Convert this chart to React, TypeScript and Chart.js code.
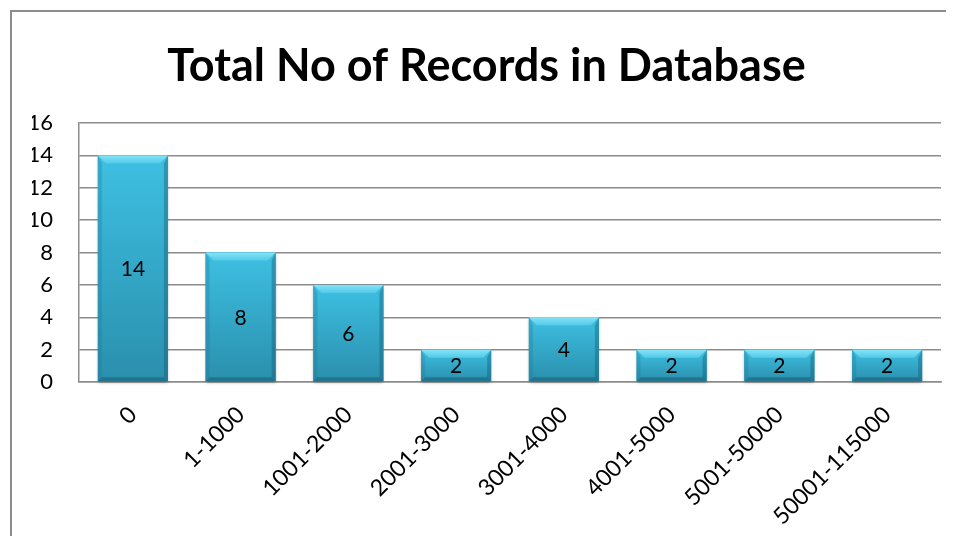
import React, { useEffect, useRef } from "react";
import { Chart, registerables } from "chart.js";

Chart.register(...registerables);

const chartTitle = "Total No of Records in Database";
const categories = [
  "0",
  "1-1000",
  "1001-2000",
  "2001-3000",
  "3001-4000",
  "4001-5000",
  "5001-50000",
  "50001-115000",
];
const recordCounts = [14, 8, 6, 2, 4, 2, 2, 2];
const yMin = 0;
const yMax = 16;
const yStep = 2;

const FONT = 'Lato, "Open Sans", "DejaVu Sans", sans-serif';

const bevelPlugin = {
  id: "bevelBars",
  afterDatasetsDraw(chart: any) {
    const ctx: CanvasRenderingContext2D = chart.ctx;
    const meta = chart.getDatasetMeta(0);
    const values = chart.data.datasets[0].data as number[];
    meta.data.forEach((bar: any, i: number) => {
      const { x, y, base, width } = bar.getProps(["x", "y", "base", "width"], true);
      const l = x - width / 2;
      const r = x + width / 2;
      const t = y;
      const b = base;
      const h = b - t;
      const bv = Math.min(8, h / 2);
      const sv = Math.min(4, h / 2);

      ctx.save();
      ctx.shadowColor = "rgba(0,0,0,0.35)";
      ctx.shadowBlur = 3;
      ctx.shadowOffsetY = 2;
      const g = ctx.createLinearGradient(0, t, 0, b);
      g.addColorStop(0, "#3ec0e2");
      g.addColorStop(1, "#2a8fad");
      ctx.fillStyle = g;
      ctx.fillRect(l, t, width, h);
      ctx.restore();

      ctx.save();
      ctx.fillStyle = "rgba(30,120,150,0.30)";
      ctx.beginPath();
      ctx.moveTo(l, t);
      ctx.lineTo(l + sv, t + bv);
      ctx.lineTo(l + sv, b - sv);
      ctx.lineTo(l, b);
      ctx.closePath();
      ctx.fill();
      ctx.fillStyle = "rgba(20,90,115,0.40)";
      ctx.beginPath();
      ctx.moveTo(r, t);
      ctx.lineTo(r - sv, t + bv);
      ctx.lineTo(r - sv, b - sv);
      ctx.lineTo(r, b);
      ctx.closePath();
      ctx.fill();
      ctx.fillStyle = "rgba(20,85,105,0.45)";
      ctx.beginPath();
      ctx.moveTo(l, b);
      ctx.lineTo(l + sv, b - sv);
      ctx.lineTo(r - sv, b - sv);
      ctx.lineTo(r, b);
      ctx.closePath();
      ctx.fill();
      const gt = ctx.createLinearGradient(0, t, 0, t + bv);
      gt.addColorStop(0, "#86e3f6");
      gt.addColorStop(1, "#52cbe9");
      ctx.fillStyle = gt;
      ctx.beginPath();
      ctx.moveTo(l, t);
      ctx.lineTo(r, t);
      ctx.lineTo(r - bv, t + bv);
      ctx.lineTo(l + bv, t + bv);
      ctx.closePath();
      ctx.fill();
      ctx.restore();

      ctx.save();
      ctx.fillStyle = "#000000";
      ctx.font = `21px ${FONT}`;
      ctx.textAlign = "center";
      ctx.textBaseline = "middle";
      ctx.fillText(String(values[i]), x, (t + b) / 2 + 1);
      ctx.restore();
    });
  },
};

export default function App() {
  const canvasRef = useRef<HTMLCanvasElement | null>(null);

  useEffect(() => {
    document.documentElement.style.overflow = "hidden";
    const canvas = canvasRef.current;
    if (!canvas) return;
    const chart = new Chart(canvas, {
      type: "bar",
      data: {
        labels: categories,
        datasets: [
          {
            data: recordCounts,
            backgroundColor: "#36aed0",
            borderWidth: 0,
            categoryPercentage: 1,
            barPercentage: 0.65,
          },
        ],
      },
      options: {
        responsive: false,
        animation: false,
        devicePixelRatio: 1,
        layout: { padding: { left: 20, right: 21, top: 0, bottom: 0 } },
        plugins: {
          legend: { display: false },
          tooltip: { enabled: false },
          title: {
            display: true,
            text: chartTitle,
            color: "#000000",
            font: { family: FONT, size: 45, weight: "bold", lineHeight: 1.2 },
            padding: { top: 27, bottom: 30 },
          },
        },
        scales: {
          x: {
            grid: { display: false, drawTicks: false },
            border: { display: true, color: "#8c8c8c", width: 1.5 },
            ticks: {
              color: "#000000",
              font: { family: FONT, size: 23 },
              minRotation: 45,
              maxRotation: 45,
              autoSkip: false,
              padding: 19,
            },
            afterFit(scale: any) {
              scale.height = 154;
            },
          },
          y: {
            min: yMin,
            max: yMax,
            grid: { color: "#8c8c8c", lineWidth: 1.5, drawTicks: false },
            border: { display: true, color: "#8c8c8c", width: 1.5 },
            ticks: {
              stepSize: yStep,
              color: "#000000",
              font: { family: FONT, size: 22 },
              padding: 26,
              crossAlign: "near",
            },
            afterFit(scale: any) {
              scale.width = 47;
            },
          },
        },
      },
      plugins: [bevelPlugin],
    });
    return () => chart.destroy();
  }, []);

  return (
    <div
      style={{
        marginLeft: 2,
        marginTop: 2,
        width: 950,
        height: 524,
        borderLeft: "2px solid #8c8c8c",
        borderTop: "2px solid #8c8c8c",
      }}
    >
      <canvas ref={canvasRef} width={950} height={524} style={{ display: "block" }} />
    </div>
  );
}
